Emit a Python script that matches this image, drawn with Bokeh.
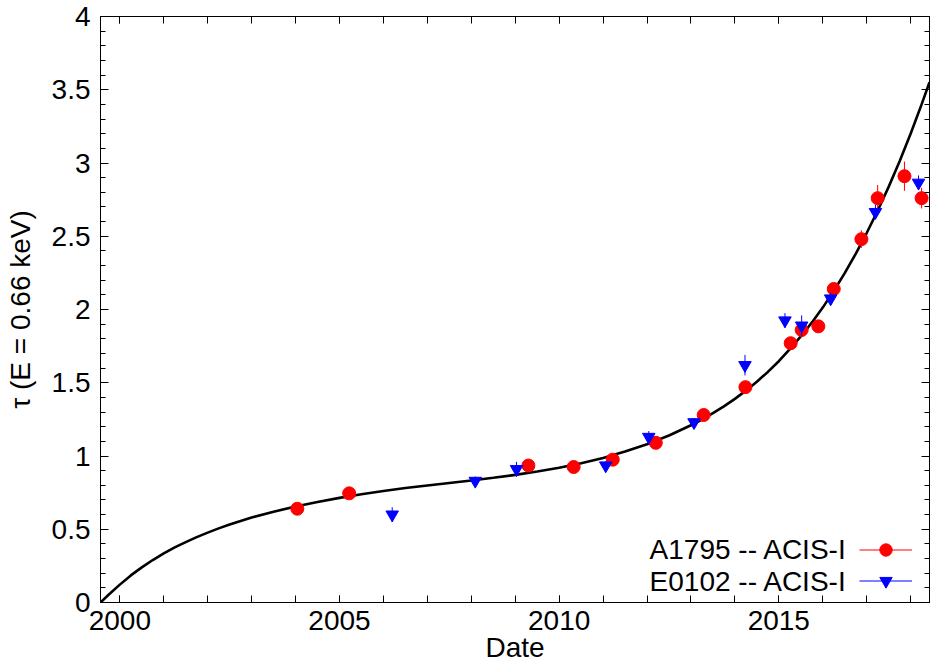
from bokeh.plotting import figure
from bokeh.models import (LinearAxis, FixedTicker, Range1d, Legend, LegendItem,
                          Label, ColumnDataSource, CustomJSTickFormatter)
from bokeh.embed import file_html
from bokeh.resources import INLINE

# ---------------- data ----------------
fit_date = [1999.56, 1999.75, 2000.0, 2000.25, 2000.5, 2000.75, 2001.0, 2001.25,
            2001.5, 2001.75, 2002.0, 2002.25, 2002.5, 2002.75, 2003.0, 2003.5,
            2004.0, 2004.5, 2005.0, 2005.5, 2006.0, 2006.5, 2007.0, 2007.5,
            2008.0, 2008.5, 2009.0, 2009.5, 2010.0, 2010.5, 2011.0, 2011.5,
            2012.0, 2012.5, 2013.0, 2013.25, 2013.5, 2013.75, 2014.0, 2014.25,
            2014.5, 2014.75, 2015.0, 2015.25, 2015.5, 2015.75, 2016.0, 2016.25,
            2016.5, 2016.75, 2017.0, 2017.25, 2017.5, 2017.75, 2018.0, 2018.25,
            2018.43]
fit_tau = [0.000, 0.055, 0.122, 0.185, 0.240, 0.290, 0.335, 0.376,
           0.412, 0.446, 0.477, 0.506, 0.532, 0.557, 0.580, 0.620,
           0.655, 0.686, 0.714, 0.739, 0.761, 0.781, 0.799, 0.816,
           0.833, 0.851, 0.871, 0.894, 0.920, 0.951, 0.987, 1.030,
           1.080, 1.140, 1.210, 1.249, 1.292, 1.339, 1.390, 1.446,
           1.507, 1.574, 1.647, 1.730, 1.816, 1.910, 2.013, 2.126,
           2.248, 2.380, 2.522, 2.674, 2.837, 3.012, 3.200, 3.400,
           3.551]

a1795_date = [2004.04, 2005.22, 2009.30, 2010.33, 2011.22, 2012.20, 2013.29, 2014.24,
              2015.27, 2015.52, 2015.90, 2016.25, 2016.88, 2017.25, 2017.86, 2018.25]
a1795_tau = [0.64, 0.745, 0.935, 0.925, 0.975, 1.09, 1.28, 1.47,
             1.77, 1.86, 1.885, 2.14, 2.48, 2.76, 2.91, 2.76]
a1795_err = [0.02, 0.02, 0.02, 0.02, 0.02, 0.025, 0.025, 0.03,
             0.03, 0.04, 0.03, 0.04, 0.06, 0.09, 0.10, 0.07]

e0102_date = [2006.20, 2008.09, 2009.03, 2011.06, 2012.04, 2013.07, 2014.23, 2015.14,
              2015.52, 2016.18, 2017.20, 2018.18]
e0102_tau = [0.60, 0.83, 0.91, 0.935, 1.13, 1.23, 1.62, 1.925,
             1.89, 2.075, 2.665, 2.865]
e0102_err = [0.05, 0.03, 0.05, 0.03, 0.04, 0.03, 0.07, 0.05,
             0.07, 0.04, 0.05, 0.05]

x_major = [2000, 2005, 2010, 2015]
x_minor = list(range(1999, 2020))
y_major = [0, 0.5, 1, 1.5, 2, 2.5, 3, 3.5, 4]
y_minor = [i / 10 for i in range(0, 41)]

x_title = "Date"
y_title = "τ (E = 0.66 keV)"
label_a = "A1795 -- ACIS-I"
label_e = "E0102 -- ACIS-I"

FONT = "Liberation Sans"
FS = "28px"

# ---------------- figure ----------------
p = figure(width=930, height=666, output_backend="svg", toolbar_location=None,
           x_range=Range1d(1999.56, 2018.43), y_range=Range1d(0, 4),
           min_border_left=100, min_border_right=1, min_border_top=16,
           min_border_bottom=64, x_axis_label=x_title, y_axis_label=y_title)
p.grid.visible = False
p.outline_line_color = "black"
p.outline_line_width = 1
p.background_fill_color = "white"
p.border_fill_color = "white"


def style_axis(ax, ticker, tin, minin, show_labels=True):
    ax.ticker = ticker
    ax.major_tick_in = tin
    ax.major_tick_out = 0
    ax.minor_tick_in = minin
    ax.minor_tick_out = 0
    ax.axis_line_color = "black"
    ax.major_tick_line_color = "black"
    ax.minor_tick_line_color = "black"
    if show_labels:
        ax.major_label_text_font = FONT
        ax.major_label_text_font_size = FS
        ax.major_label_text_color = "black"
        ax.axis_label_text_font = FONT
        ax.axis_label_text_font_size = FS
        ax.axis_label_text_font_style = "normal"
        ax.axis_label_text_color = "black"
    else:
        ax.formatter = CustomJSTickFormatter(code="return ''")
        ax.major_label_text_font_size = "1px"
        ax.major_label_text_alpha = 0
        ax.major_label_standoff = 0


xa = p.xaxis[0]
style_axis(xa, FixedTicker(ticks=x_major, minor_ticks=x_minor), 7, 7)
xa.major_label_standoff = 8
xa.axis_label_standoff = -1

ya = p.yaxis[0]
style_axis(ya, FixedTicker(ticks=y_major, minor_ticks=y_minor), 8, 5)
ya.major_label_standoff = 10
ya.axis_label_standoff = 13

top = LinearAxis()
style_axis(top, FixedTicker(ticks=x_major, minor_ticks=x_minor), 7, 7, False)
p.add_layout(top, "above")
right = LinearAxis()
style_axis(right, FixedTicker(ticks=y_major, minor_ticks=y_minor), 8, 5, False)
p.add_layout(right, "right")

# ---------------- data glyphs ----------------
p.line(fit_date, fit_tau, line_color="black", line_width=2.6)

src_a = ColumnDataSource(dict(
    x=a1795_date, y=a1795_tau,
    lo=[t - e for t, e in zip(a1795_tau, a1795_err)],
    hi=[t + e for t, e in zip(a1795_tau, a1795_err)]))
src_e = ColumnDataSource(dict(
    x=e0102_date, y=e0102_tau,
    lo=[t - e for t, e in zip(e0102_tau, e0102_err)],
    hi=[t + e for t, e in zip(e0102_tau, e0102_err)]))

seg_a = p.segment(x0="x", y0="lo", x1="x", y1="hi", source=src_a,
                  line_color="#ff0000", line_width=1)
sc_a = p.scatter("x", "y", source=src_a, marker="circle", size=13,
                 fill_color="#ff0000", line_color="#ff0000")
seg_e = p.segment(x0="x", y0="lo", x1="x", y1="hi", source=src_e,
                  line_color="#0000ff", line_width=1)
sc_e = p.scatter("x", "y", source=src_e, marker="inverted_triangle", size=12.5,
                 fill_color="#0000ff", line_color="#0000ff")

# ---------------- legend (text left of the sample, gnuplot style) ----------------
leg = Legend(items=[LegendItem(label=" ", renderers=[seg_a, sc_a]),
                    LegendItem(label=" ", renderers=[seg_e, sc_e])],
             location=(759, 5.8), glyph_width=53, glyph_height=31, spacing=0,
             padding=0, margin=0, label_width=0, label_height=0, label_standoff=0,
             label_text_font_size="1px", border_line_alpha=0,
             background_fill_alpha=0)
p.add_layout(leg, "center")

for txt, yy in ((label_a, 52.7), (label_e, 21.3)):
    p.add_layout(Label(x=746.7, y=yy, x_units="screen", y_units="screen", text=txt,
                       text_align="right", text_baseline="middle",
                       text_font=FONT, text_font_size=FS, text_color="black"))

open("out.html", "w").write(file_html(p, INLINE))
